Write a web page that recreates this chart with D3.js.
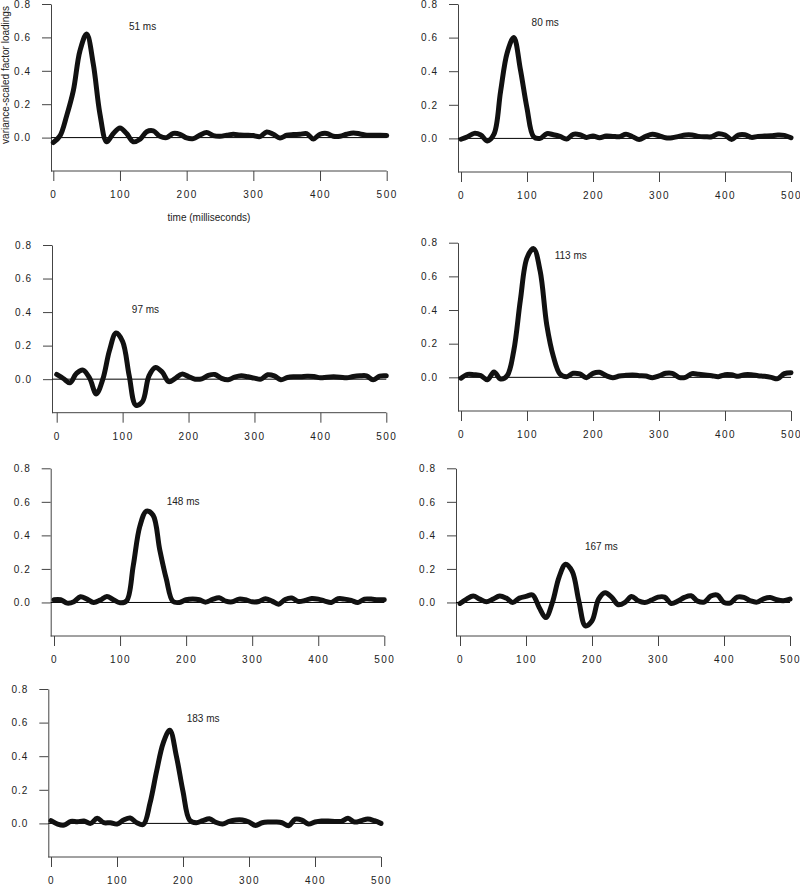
<!DOCTYPE html>
<html lang="en">
<head>
<meta charset="UTF-8">
<title>Factor loadings</title>
<script src="https://d3js.org/d3.v7.min.js"></script>
<style>
  body { margin: 0; background: #fff; }
  text { font-family: "Liberation Sans", Arial, sans-serif; fill: #222; }
</style>
</head>
<body>
<script>

// time points (ms)
const times = [0, 10, 20, 30, 40, 50, 60, 70, 80, 90,
               100, 110, 120, 130, 140, 150, 160, 170, 180, 190,
               200, 210, 220, 230, 240, 250, 260, 270, 280, 290,
               300, 310, 320, 330, 340, 350, 360, 370, 380, 390,
               400, 410, 420, 430, 440, 450, 460, 470, 480, 490, 500];

const peakLabels = ["51 ms", "80 ms", "97 ms", "113 ms", "148 ms", "167 ms", "183 ms"];

const f51 = [-0.03, 0.01, 0.13, 0.28, 0.52, 0.62, 0.44, 0.14, -0.025, 0.025,
             0.058, 0.024, -0.025, -0.01, 0.035, 0.04, 0.008, 0.0, 0.025, 0.02,
             -0.002, -0.006, 0.015, 0.03, 0.012, 0.008, 0.014, 0.02, 0.015, 0.014,
             0.012, 0.006, 0.034, 0.02, -0.002, 0.014, 0.018, 0.02, 0.024, -0.008,
             0.02, 0.025, 0.008, 0.008, 0.02, 0.028, 0.022, 0.014, 0.014, 0.014, 0.012];

const f80 = [-0.005, 0.01, 0.03, 0.02, -0.015, 0.025, 0.28, 0.51, 0.60, 0.41,
             0.18, 0.01, 0.0, 0.028, 0.022, 0.012, -0.004, 0.024, 0.022, 0.006,
             0.014, 0.004, 0.014, 0.012, 0.01, 0.024, 0.01, -0.006, 0.012, 0.024,
             0.016, 0.004, 0.004, 0.012, 0.02, 0.02, 0.012, 0.01, 0.01, 0.028,
             0.02, -0.006, 0.02, 0.022, 0.006, 0.012, 0.014, 0.016, 0.02, 0.018, 0.004];

const f97 = [0.028, 0.004, -0.022, 0.035, 0.054, 0.005, -0.088, 0.0, 0.17, 0.275,
             0.225, 0.02, -0.155, -0.135, 0.02, 0.07, 0.042, -0.015, 0.005, 0.03,
             0.015, 0.0, 0.002, 0.022, 0.028, 0.005, -0.004, 0.012, 0.02, 0.014,
             0.006, 0.0, 0.026, 0.02, -0.004, 0.01, 0.014, 0.014, 0.018, 0.016,
             0.008, 0.012, 0.014, 0.012, 0.008, 0.016, 0.02, 0.02, -0.004, 0.018, 0.02];

const f113 = [-0.005, 0.018, 0.016, 0.01, -0.015, 0.032, -0.01, 0.01, 0.16, 0.46,
              0.71, 0.765, 0.63, 0.31, 0.123, 0.02, 0.004, 0.024, 0.02, -0.002,
              0.024, 0.03, 0.01, -0.002, 0.008, 0.012, 0.014, 0.01, 0.008, -0.002,
              0.008, 0.024, 0.024, 0.0, 0.0, 0.022, 0.018, 0.014, 0.01, 0.004,
              0.016, 0.015, 0.006, 0.016, 0.016, 0.01, 0.006, 0.0, -0.008, 0.022, 0.028];

const f148 = [0.016, 0.016, -0.004, 0.004, 0.034, 0.02, 0.0, 0.014, 0.036, 0.016,
              -0.002, 0.01, 0.22, 0.455, 0.545, 0.52, 0.316, 0.14, 0.006, 0.0,
              0.016, 0.02, 0.016, 0.002, 0.018, 0.028, 0.008, 0.004, 0.02, 0.016,
              0.004, 0.006, 0.022, 0.008, -0.01, 0.018, 0.026, 0.006, 0.012, 0.024,
              0.02, 0.008, 0.0, 0.022, 0.02, 0.012, 0.0, 0.02, 0.02, 0.016, 0.016];

const f167 = [-0.006, 0.02, 0.038, 0.02, 0.004, 0.02, 0.038, 0.026, 0.0, 0.026,
              0.036, 0.045, -0.03, -0.09, 0.0, 0.15, 0.228, 0.185, 0.01, -0.14,
              -0.11, 0.02, 0.058, 0.03, -0.014, 0.0, 0.036, 0.01, 0.0, 0.014,
              0.032, 0.032, -0.006, 0.008, 0.03, 0.04, 0.008, 0.002, 0.038, 0.044,
              0.0, -0.002, 0.032, 0.03, 0.01, 0.002, 0.022, 0.03, 0.016, 0.01, 0.02];

const f183 = [0.016, -0.004, -0.01, 0.012, 0.01, 0.014, 0.0, 0.03, 0.004, 0.004,
              -0.004, 0.02, 0.032, 0.004, -0.006, 0.12, 0.31, 0.478, 0.555, 0.40,
              0.19, 0.02, 0.004, 0.016, 0.028, 0.006, -0.004, 0.012, 0.02, 0.02,
              0.008, -0.012, 0.004, 0.008, 0.008, 0.004, -0.014, 0.025, 0.02, -0.004,
              0.008, 0.014, 0.014, 0.012, 0.012, 0.03, 0.008, 0.016, 0.026, 0.016, 0.0];

const xTicks = [0, 100, 200, 300, 400, 500];
const yTicks = [0, 0.2, 0.4, 0.6, 0.8];

const series = [f51, f80, f97, f113, f148, f167, f183];

// panel placement: y axis x, pixel of t=0, pixel of t=500, pixel of 0.8, pixel of -0.2
const panels = [
  { ax: 51,  x0: 53.3, x1: 386.7, top: 4,     bot: 171 },
  { ax: 458, x0: 461,  x1: 791,   top: 4,     bot: 172 },
  { ax: 52,  x0: 56.7, x1: 386.3, top: 245,   bot: 412.7 },
  { ax: 458, x0: 461,  x1: 791,   top: 242.7, bot: 411 },
  { ax: 50.7, x0: 54,  x1: 384.3, top: 468.3, bot: 636 },
  { ax: 456, x0: 460,  x1: 790,   top: 468.3, bot: 636 },
  { ax: 48.3, x0: 51,  x1: 381,   top: 689,   bot: 857 }
];
// where the peak label sits, in (ms, loading) of its panel
const labelAt = [[113.5, 0.647], [107, 0.669], [114, 0.397], [142, 0.706],
                 [170.6, 0.583], [189.4, 0.313], [205.6, 0.601]];

const w = 800, h = 885;

const svg = d3.select("body").append("svg")
    .attr("width", w)
    .attr("height", h);

panels.forEach((p, i) => {
  const x = d3.scaleLinear().domain([0, 500]).range([p.x0, p.x1]);
  const y = d3.scaleLinear().domain([-0.2, 0.8]).range([p.bot, p.top]);
  const g = svg.append("g");

  // y axis
  g.append("g")
    .attr("transform", "translate(" + p.ax + ",0)")
    .call(d3.axisLeft(y).tickValues(yTicks).tickFormat(d3.format(".1f"))
            .tickSize(9).tickSizeOuter(0).tickPadding(11))
    .call(a => a.selectAll("path, line").attr("stroke", "#444"))
    .call(a => a.selectAll("text").attr("font-size", 10).style("letter-spacing", "1px").attr("fill", "#222"));

  // x axis
  g.append("g")
    .attr("transform", "translate(0," + p.bot + ")")
    .call(d3.axisBottom(x).tickValues(xTicks).tickFormat(d3.format("d"))
            .tickSize(10).tickPadding(10))
    .call(a => a.select(".domain").remove())
    .call(a => a.selectAll("line").attr("stroke", "#444"))
    .call(a => a.selectAll("text").attr("font-size", 10).style("letter-spacing", "1.5px").attr("fill", "#222"));

  g.append("line")
    .attr("x1", p.ax).attr("x2", x(500))
    .attr("y1", p.bot).attr("y2", p.bot)
    .attr("stroke", "#444");

  // zero line
  g.append("line")
    .attr("x1", p.ax).attr("x2", x(500))
    .attr("y1", y(0)).attr("y2", y(0))
    .attr("stroke", "#000")
    .attr("stroke-width", 1);

  const line = d3.line()
    .x((d, j) => x(times[j]))
    .y(d => y(d))
    .curve(d3.curveCatmullRom.alpha(0.5));

  g.append("path")
    .datum(series[i])
    .attr("d", line)
    .attr("fill", "none")
    .attr("stroke", "#111")
    .attr("stroke-width", 5)
    .attr("stroke-linejoin", "round")
    .attr("stroke-linecap", "round");

  g.append("text")
    .attr("x", x(labelAt[i][0]))
    .attr("y", y(labelAt[i][1]))
    .attr("font-size", 10)
    .text(peakLabels[i]);

  if (i === 0) {
    g.append("text")
      .attr("transform", "translate(9," + 75 + ") rotate(-90)")
      .attr("text-anchor", "middle")
      .attr("font-size", 10)
      .text("variance-scaled factor loadings");

    g.append("text")
      .attr("x", 209)
      .attr("y", 221)
      .attr("text-anchor", "middle")
      .attr("font-size", 10)
      .text("time (milliseconds)");
  }
});

</script>
</body>
</html>
